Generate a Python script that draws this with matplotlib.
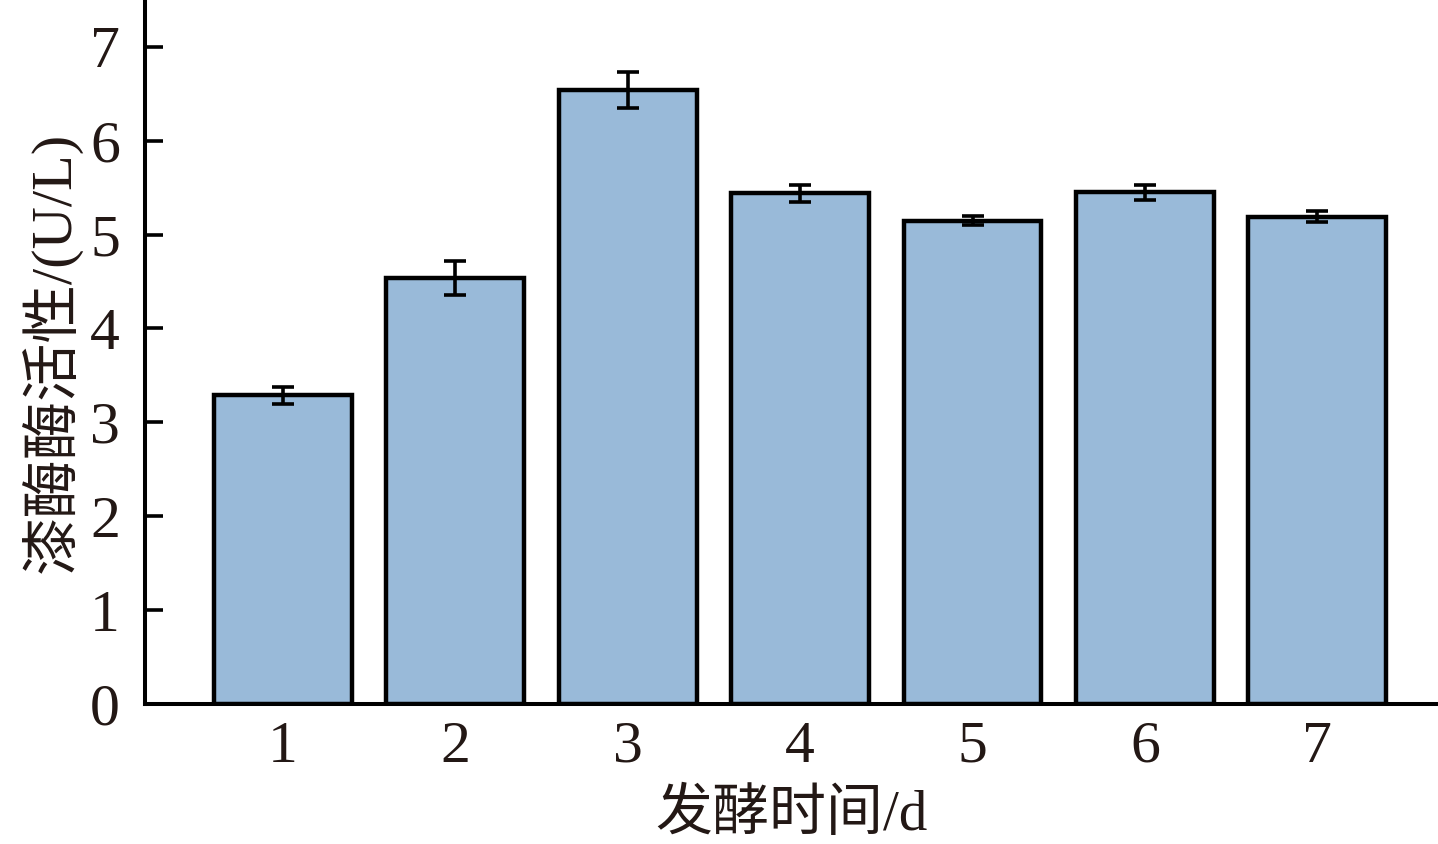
import numpy as np
import matplotlib.pyplot as plt

days = [1, 2, 3, 4, 5, 6, 7]
activity = [3.29, 4.54, 6.54, 5.44, 5.15, 5.45, 5.19]
errors = [0.09, 0.18, 0.19, 0.09, 0.05, 0.08, 0.06]
yticks = [0, 1, 2, 3, 4, 5, 6, 7]

ink = '#231815'
fam = ['Liberation Serif', 'Noto Sans CJK SC']
plt.rcParams['font.family'] = fam

fig = plt.figure(figsize=(14.38, 8.44), dpi=100)
ax = fig.add_axes([0.1008, 0.166, 0.8992, 0.834])

ax.bar(days, activity, width=0.8, color='#99bad9', edgecolor='black', linewidth=3.2, zorder=2)
ax.errorbar(days, activity, yerr=errors, fmt='none', ecolor='black', elinewidth=2.6,
            capsize=8, capthick=2.6, zorder=3)

ax.set_xlim(0.2, 7.7)
ax.set_ylim(0, 7.5)
ax.set_xticks(days)
ax.set_yticks(yticks)

for side in ['top', 'right']:
    ax.spines[side].set_visible(False)
for side in ['left', 'bottom']:
    ax.spines[side].set_linewidth(2.9)
    ax.spines[side].set_color('black')

ax.tick_params(axis='y', direction='in', length=13, width=2.6, pad=18,
               labelsize=43, labelcolor=ink)
ax.tick_params(axis='x', direction='in', length=10, width=2.6, pad=12,
               labelsize=43, labelcolor=ink)

ax.set_xlabel('发酵时间/d', fontsize=41, color=ink, labelpad=10)
ax.set_ylabel('漆酶酶活性/(U/L)', fontsize=42, color=ink, labelpad=6)

plt.savefig('out.png', dpi=100)
plt.close()
